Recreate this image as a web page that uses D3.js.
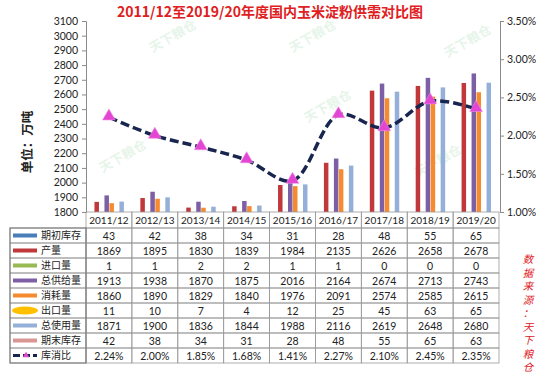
<!DOCTYPE html>
<html>
<head>
<meta charset="utf-8">
<script src="https://cdn.jsdelivr.net/npm/d3@7"></script>
<style>
  body { margin: 0; background: #fff; }
  svg { display: block; }
  .num { font-family: Lato, "Liberation Sans", sans-serif; font-size: 10.5px; fill: #222; }
  .cjk { font-family: "Noto Sans CJK SC", sans-serif; }
</style>
</head>
<body>
<div id="chart-area"></div>
<script>
// data
var seasons = ["2011/12","2012/13","2013/14","2014/15","2015/16","2016/17","2017/18","2018/19","2019/20"];
var beginStock  = [43, 42, 38, 34, 31, 28, 48, 55, 65];
var production  = [1869, 1895, 1830, 1839, 1984, 2135, 2626, 2658, 2678];
var imports     = [1, 1, 2, 2, 1, 1, 0, 0, 0];
var totalSupply = [1913, 1938, 1870, 1875, 2016, 2164, 2674, 2713, 2743];
var consumption = [1860, 1890, 1829, 1840, 1976, 2091, 2574, 2585, 2615];
var exports     = [11, 10, 7, 4, 12, 25, 45, 63, 65];
var totalUse    = [1871, 1900, 1836, 1844, 1988, 2116, 2619, 2648, 2680];
var endStock    = [42, 38, 34, 31, 28, 48, 55, 65, 63];
var stockRatio  = [2.24, 2.00, 1.85, 1.68, 1.41, 2.27, 2.10, 2.45, 2.35];
var leftTicks   = d3.range(1800, 3101, 100);
var rightTicks  = [1.0, 1.5, 2.0, 2.5, 3.0, 3.5];

var seriesNames  = ["期初库存","产量","进口量","总供给量","消耗量","出口量","总使用量","期末库存"];
var seriesValues = [beginStock, production, imports, totalSupply, consumption, exports, totalUse, endStock];
var seriesColors = ["#4a7ebb","#c0383a","#98b954","#7d5fa6","#f58b2e","#ffc000","#95b0d8","#d99694"];

var width = 550, height = 375;
var plotLeft = 86, plotRight = 500, plotTop = 21, plotBottom = 212;

var svg = d3.select("#chart-area").append("svg")
  .attr("width", width)
  .attr("height", height);

// scales
var x0 = d3.scaleBand().domain(seasons).range([plotLeft, plotRight - 1]).paddingInner(0.13).paddingOuter(0.065);
var xCell = d3.scaleBand().domain(seasons).range([plotLeft, plotRight - 1]);
var x1 = d3.scaleBand().domain(d3.range(8)).range([0, x0.bandwidth()]);
var yLeft = d3.scaleLinear().domain([1800, 3100]).range([plotBottom, plotTop]);
var yRight = d3.scaleLinear().domain([1.0, 3.5]).range([plotBottom, plotTop]);

// watermarks
var marks = [[175, 40], [330, 110], [315, 40], [470, 45], [125, 160], [440, 165]];
svg.append("g").selectAll("text")
  .data(marks)
  .enter().append("text")
  .attr("class", "cjk")
  .attr("transform", function(d) { return "translate(" + d[0] + "," + d[1] + ") rotate(-30)"; })
  .attr("text-anchor", "middle")
  .attr("font-size", 13)
  .attr("font-weight", "bold")
  .attr("fill", "#7cc98a")
  .attr("opacity", 0.18)
  .text("天下粮仓");

// title
svg.append("text")
  .attr("class", "cjk")
  .attr("x", 270).attr("y", 17)
  .attr("text-anchor", "middle")
  .attr("font-size", 14)
  .attr("font-weight", "bold")
  .attr("fill", "#e0201e")
  .text("2011/12至2019/20年度国内玉米淀粉供需对比图");

// unit label
svg.append("text")
  .attr("class", "cjk")
  .attr("transform", "translate(32,142) rotate(-90)")
  .attr("text-anchor", "middle")
  .attr("font-size", 12.5)
  .attr("font-weight", "bold")
  .attr("fill", "#222")
  .text("单位：万吨");

// bars, clipped at the 1800 floor
svg.append("clipPath").attr("id", "plotclip")
  .append("rect").attr("x", plotLeft).attr("y", plotTop).attr("width", plotRight - plotLeft).attr("height", plotBottom - plotTop);

var barG = svg.append("g").attr("clip-path", "url(#plotclip)");
seriesValues.forEach(function(vals, si) {
  barG.append("g").selectAll("rect")
    .data(vals)
    .enter().append("rect")
    .attr("x", function(d, i) { return x0(seasons[i]) + x1(si) + 0.5; })
    .attr("width", x1.bandwidth() - 0.5)
    .attr("y", function(d) { return yLeft(Math.max(d, 1800)); })
    .attr("height", function(d) { return plotBottom - yLeft(Math.max(d, 1800)); })
    .attr("fill", seriesColors[si]);
});

// axes
var leftAxis = d3.axisLeft(yLeft).tickValues(leftTicks).tickSize(4).tickPadding(4).tickFormat(d3.format("d"));
var gl = svg.append("g").attr("transform", "translate(" + plotLeft + ",0)").call(leftAxis);
gl.selectAll("text").attr("class", "num").attr("font-size", null).attr("fill", "#222");
gl.selectAll("line").attr("stroke", "#8a8a8a");
gl.select(".domain").attr("stroke", "#8a8a8a");

var rightAxis = d3.axisRight(yRight).tickValues(rightTicks).tickSize(4).tickPadding(3)
  .tickFormat(function(d) { return d.toFixed(2) + "%"; });
var gr = svg.append("g").attr("transform", "translate(" + plotRight + ",0)").call(rightAxis);
gr.selectAll("text").attr("class", "num").attr("font-size", null).attr("fill", "#222");
gr.selectAll("line").attr("stroke", "#8a8a8a");
gr.select(".domain").attr("stroke", "#8a8a8a");

// stock-to-use line
var line = d3.line()
  .x(function(d, i) { return x0(seasons[i]) + x0.bandwidth() / 2; })
  .y(function(d) { return yRight(d); })
  .curve(d3.curveCatmullRom.alpha(0.5));

svg.append("path")
  .datum(stockRatio)
  .attr("d", line)
  .attr("fill", "none")
  .attr("stroke", "#17254f")
  .attr("stroke-width", 3.5)
  .attr("stroke-dasharray", "9,4");

svg.append("g").selectAll("path")
  .data(stockRatio)
  .enter().append("path")
  .attr("transform", function(d, i) { return "translate(" + (x0(seasons[i]) + x0.bandwidth() / 2) + "," + (yRight(d) - 1) + ")"; })
  .attr("d", d3.symbol().type(d3.symbolTriangle).size(70))
  .attr("fill", "#e346d2")
  .attr("stroke", "#f08ae4")
  .attr("stroke-width", 0.6);

// data table
var rowH = 15, headTop = 212, bodyTop = 228, legLeft = 10;
var rows = seriesValues.concat([stockRatio]);
var rowNames = seriesNames.concat(["库消比"]);
var tableG = svg.append("g");
var border = "#9a9a9a";

// header row
tableG.selectAll(".hcell")
  .data(seasons)
  .enter().append("rect")
  .attr("x", function(d) { return xCell(d); })
  .attr("y", headTop)
  .attr("width", xCell.bandwidth())
  .attr("height", bodyTop - headTop)
  .attr("fill", "none").attr("stroke", border).attr("stroke-width", 0.8);
tableG.selectAll(".htext")
  .data(seasons)
  .enter().append("text")
  .attr("class", "num")
  .attr("x", function(d) { return xCell(d) + xCell.bandwidth() / 2; })
  .attr("y", headTop + 12)
  .attr("text-anchor", "middle")
  .style("font-size", "10px")
  .text(function(d) { return d; });

rows.forEach(function(vals, ri) {
  var y = bodyTop + ri * rowH;
  tableG.append("rect")
    .attr("x", legLeft).attr("y", y)
    .attr("width", plotLeft - legLeft).attr("height", rowH)
    .attr("fill", "none").attr("stroke", border).attr("stroke-width", 0.8);
  var rg = tableG.append("g");
  rg.selectAll("rect")
    .data(vals)
    .enter().append("rect")
    .attr("x", function(d, i) { return xCell(seasons[i]); })
    .attr("y", y)
    .attr("width", xCell.bandwidth())
    .attr("height", rowH)
    .attr("fill", "none").attr("stroke", border).attr("stroke-width", 0.8);
  rg.selectAll("text")
    .data(vals)
    .enter().append("text")
    .attr("class", "num")
    .attr("x", function(d, i) { return xCell(seasons[i]) + xCell.bandwidth() / 2; })
    .attr("y", y + 11.5)
    .attr("text-anchor", "middle")
    .text(function(d) { return ri === 8 ? d.toFixed(2) + "%" : d; });

  // legend key
  if (ri < 8) {
    if (ri === 5) {
      tableG.append("ellipse")
        .attr("cx", 25).attr("cy", y + rowH / 2)
        .attr("rx", 13).attr("ry", 4)
        .attr("fill", seriesColors[ri]);
    } else {
      tableG.append("rect")
        .attr("x", 13).attr("y", y + rowH / 2 - 2)
        .attr("width", 24).attr("height", 4)
        .attr("fill", seriesColors[ri]);
    }
  } else {
    tableG.append("line")
      .attr("x1", 13).attr("x2", 37)
      .attr("y1", y + rowH / 2).attr("y2", y + rowH / 2)
      .attr("stroke", "#17254f").attr("stroke-width", 3)
      .attr("stroke-dasharray", "7,3");
    tableG.append("path")
      .attr("transform", "translate(26," + (y + rowH / 2) + ")")
      .attr("d", d3.symbol().type(d3.symbolTriangle).size(18))
      .attr("fill", "#e346d2");
  }
  tableG.append("text")
    .attr("class", "cjk")
    .attr("x", 41).attr("y", y + 11)
    .attr("font-size", 10)
    .attr("fill", "#222")
    .text(rowNames[ri]);
});

// outer frame of the table
tableG.append("rect")
  .attr("x", legLeft).attr("y", bodyTop)
  .attr("width", plotLeft - legLeft).attr("height", rowH * rows.length)
  .attr("fill", "none").attr("stroke", "#777").attr("stroke-width", 1);

// source note, vertical
var source = "数据来源：天下粮仓".split("");
svg.append("g").selectAll("text")
  .data(source)
  .enter().append("text")
  .attr("class", "cjk")
  .attr("x", 528)
  .attr("y", function(d, i) { return 263 + i * 13.5; })
  .attr("text-anchor", "middle")
  .attr("font-size", 10.5)
  .attr("font-style", "italic")
  .attr("fill", "#e0201e")
  .text(function(d) { return d; });
</script>
</body>
</html>
